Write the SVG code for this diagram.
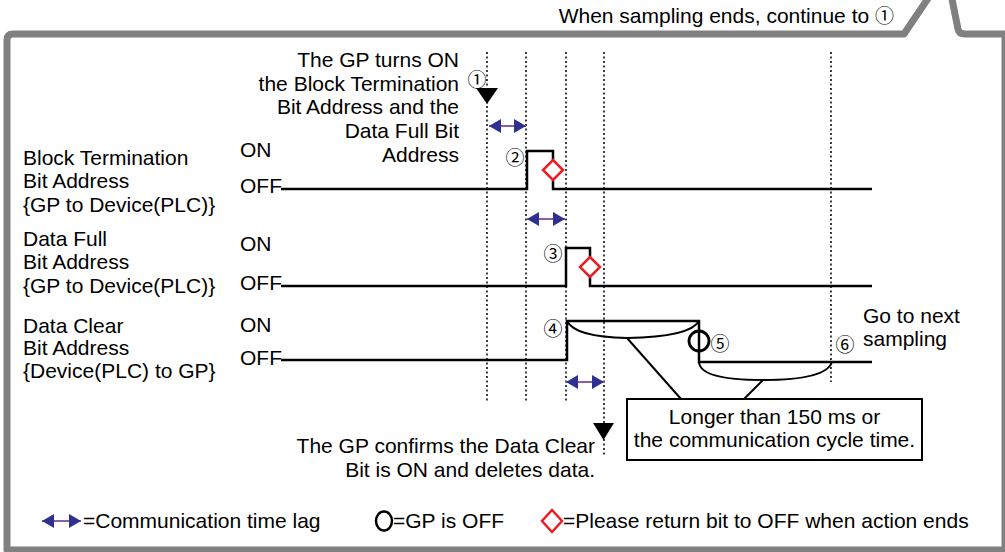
<svg xmlns="http://www.w3.org/2000/svg" width="1005" height="552" viewBox="0 0 1005 552">
<defs>
<style>
text{font-family:"Liberation Sans",Arial,"DejaVu Sans",sans-serif;font-size:21px;fill:#000}
.num{font-family:"Noto Sans CJK JP","DejaVu Sans",sans-serif;font-size:19px;text-anchor:middle;dominant-baseline:central}
.numt{font-family:"Noto Sans CJK JP","DejaVu Sans",sans-serif;font-size:19px}
.end{text-anchor:end}
.mid{text-anchor:middle}
.dot{stroke:#000;stroke-width:1.5;stroke-dasharray:2 2.5;fill:none}
.sig{stroke:#000;stroke-width:2.5;fill:none}
.lag{stroke:#8b5fa6;stroke-width:2.2;marker-start:url(#ah);marker-end:url(#ah)}
.dia{fill:#fff;stroke:#ed1c24;stroke-width:2.5}
.thin{stroke:#000;stroke-width:2;fill:none}
</style>
<marker id="ah" viewBox="0 0 12 14" refX="12" refY="7" markerWidth="12" markerHeight="14" markerUnits="userSpaceOnUse" orient="auto-start-reverse">
<path d="M0,0 L12,7 L0,14 Z" fill="#2e3192"/>
</marker>
</defs>
<rect width="1005" height="552" fill="#fff"/>
<g id="frame">
<path d="M7,550 V40 Q7,34 13,34 H904 L931,-6 H951 L958,29 Q959,34 965,34 H1005 V550 Z" fill="#fff" stroke="#808080" stroke-width="7" stroke-linejoin="round"/>
<text class="end" x="894" y="23">When sampling ends, continue to <tspan class="numt">①</tspan></text>
</g>
<g id="labels">
<text x="23" y="165">Block Termination</text>
<text x="23" y="188">Bit Address</text>
<text x="23" y="212">{GP to Device(PLC)}</text>
<text x="23" y="246">Data Full</text>
<text x="23" y="269">Bit Address</text>
<text x="23" y="293">{GP to Device(PLC)}</text>
<text x="23" y="333">Data Clear</text>
<text x="23" y="355">Bit Address</text>
<text x="23" y="378">{Device(PLC) to GP}</text>
<text x="240" y="157">ON</text>
<text x="240" y="193">OFF</text>
<text x="240" y="251">ON</text>
<text x="240" y="290">OFF</text>
<text x="240" y="332">ON</text>
<text x="240" y="365">OFF</text>
</g>
<g id="guides">
<line class="dot" x1="487" y1="52" x2="487" y2="401"/>
<line class="dot" x1="526" y1="52" x2="526" y2="401"/>
<line class="dot" x1="566" y1="52" x2="566" y2="401"/>
<line class="dot" x1="604" y1="52" x2="604" y2="456"/>
<line class="dot" x1="831" y1="52" x2="831" y2="382"/>
</g>
<g id="connectors">
<path class="sig" d="M281,189 H527 V151 H553 V189 H872"/>
<path class="sig" d="M281,286 H566 V248 H590 V286 H872"/>
<path class="sig" stroke-width="3" d="M281,360 H567 V321 H699 V362 H872"/>
<path class="thin" d="M567,321 Q575,337 627,338 Q690,337 699,321"/>
<path class="thin" d="M699,362 Q700,380 763,380 Q826,380 832,362"/>
<line class="thin" x1="627" y1="338" x2="681" y2="399"/>
<line class="thin" x1="763" y1="380" x2="744" y2="399"/>
<line class="lag" x1="489" y1="126" x2="526" y2="126"/>
<line class="lag" x1="527" y1="219" x2="565" y2="219"/>
<line class="lag" x1="566" y1="382" x2="604" y2="382"/>
</g>
<g id="markers">
<polygon points="476,88 498,88 487,104" fill="#000"/>
<polygon points="593,423 614,423 603.5,440" fill="#000"/>
<polygon class="dia" points="553,160 563,170 553,180 543,170"/>
<polygon class="dia" points="590,257 600,267 590,277 580,267"/>
<circle cx="699" cy="341" r="10" fill="none" stroke="#000" stroke-width="2.8"/>
<text class="num" x="477" y="78">①</text>
<text class="num" x="515" y="156">②</text>
<text class="num" x="553" y="252">③</text>
<text class="num" x="553" y="327">④</text>
<text class="num" x="720" y="342">⑤</text>
<text class="num" x="845" y="343">⑥</text>
</g>
<g id="note-start">
<text class="end" x="459" y="67">The GP turns ON</text>
<text class="end" x="459" y="91">the Block Termination</text>
<text class="end" x="459" y="114">Bit Address and the</text>
<text class="end" x="459" y="138">Data Full Bit</text>
<text class="end" x="459" y="162">Address</text>
</g>
<g id="note-confirm">
<text class="end" x="595" y="453">The GP confirms the Data Clear</text>
<text class="end" x="595" y="477">Bit is ON and deletes data.</text>
</g>
<g id="note-next">
<text x="863" y="323">Go to next</text>
<text x="863" y="346">sampling</text>
</g>
<g id="box">
<rect x="627" y="399" width="295" height="61" fill="#fff" stroke="#000" stroke-width="2"/>
<text class="mid" x="774.5" y="424">Longer than 150 ms or</text>
<text class="mid" x="774.5" y="447">the communication cycle time.</text>
</g>
<g id="legend">
<line class="lag" x1="42" y1="521" x2="81" y2="521"/>
<text x="83" y="528">=Communication time lag</text>
<ellipse cx="384" cy="521" rx="8" ry="9.5" fill="none" stroke="#000" stroke-width="2.5"/>
<text x="393" y="528">=GP is OFF</text>
<polygon class="dia" points="552,510 562,521 552,532 542,521"/>
<text x="563" y="528">=Please return bit to OFF when action ends</text>
</g>
</svg>
